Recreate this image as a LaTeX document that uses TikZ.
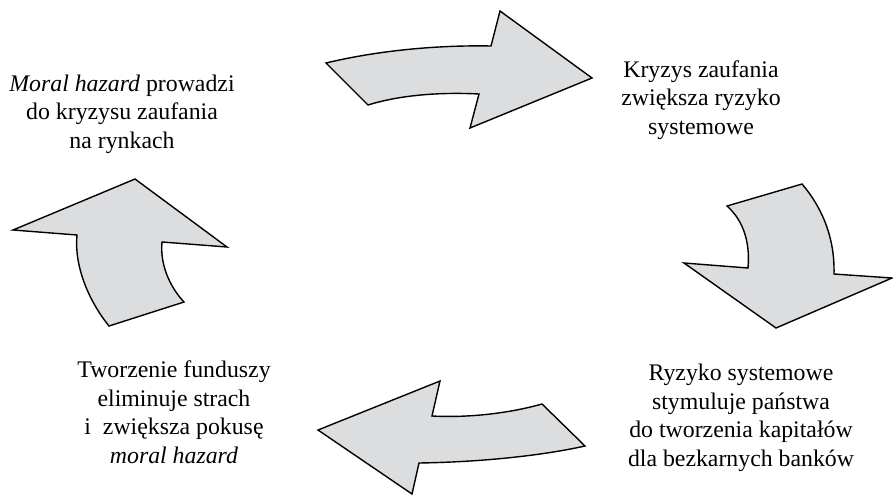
\documentclass[tikz,border=0pt]{standalone}
\usepackage{fontspec}
\setmainfont{Liberation Serif}
\definecolor{arrowfill}{HTML}{DCDDDF}
\begin{document}
\begin{tikzpicture}[x={(1pt,0)},y={(0,-1pt)},
  bigarrow/.style={draw=black,fill=arrowfill,line width=1.4pt,line join=miter},
  label/.style={align=center,font=\fontsize{23.8}{28.5}\selectfont,inner sep=0pt}]
\useasboundingbox (0,0) rectangle (893,496);
% top arrow
\path[bigarrow] (326,63) .. controls (380,50) and (440,45) .. (491,46)
  -- (500,11) -- (592,78) -- (470,128) -- (479,94)
  .. controls (440,92) and (400,95) .. (368,105) -- cycle;
% right arrow
\path[bigarrow] (727,206) -- (802,184) .. controls (820,205) and (835,235) .. (834,274)
  -- (892,278) -- (776,328) -- (684,263) -- (748,268)
  .. controls (750,245) and (745,222) .. (727,206) -- cycle;
% bottom arrow
\path[bigarrow] (318,430) -- (440,381) -- (432,416) .. controls (470,418) and (510,413) .. (542,404)
  -- (585,446) .. controls (540,456) and (480,462) .. (419,463)
  -- (412,494) -- cycle;
% left arrow
\path[bigarrow] (135,179) -- (227,247) -- (162,242) .. controls (160,262) and (168,285) .. (184,302)
  -- (109,326) .. controls (88,300) and (74,265) .. (77,235)
  -- (13,230) -- cycle;
% texts
\node[label] (tl) at (122,114) {\textit{Moral hazard} prowadzi\\do kryzysu zaufania\\na rynkach};
\node[label] (tr) at (701,100) {Kryzys zaufania\\zwiększa ryzyko\\systemowe};
\node[label] (br) at (741,418) {Ryzyko systemowe\\stymuluje państwa\\do tworzenia kapitałów\\dla bezkarnych banków};
\node[label] (bl) at (174,412) {Tworzenie funduszy\\eliminuje strach\\i\ \ zwiększa pokusę\\\textit{moral hazard}};
\end{tikzpicture}
\end{document}
